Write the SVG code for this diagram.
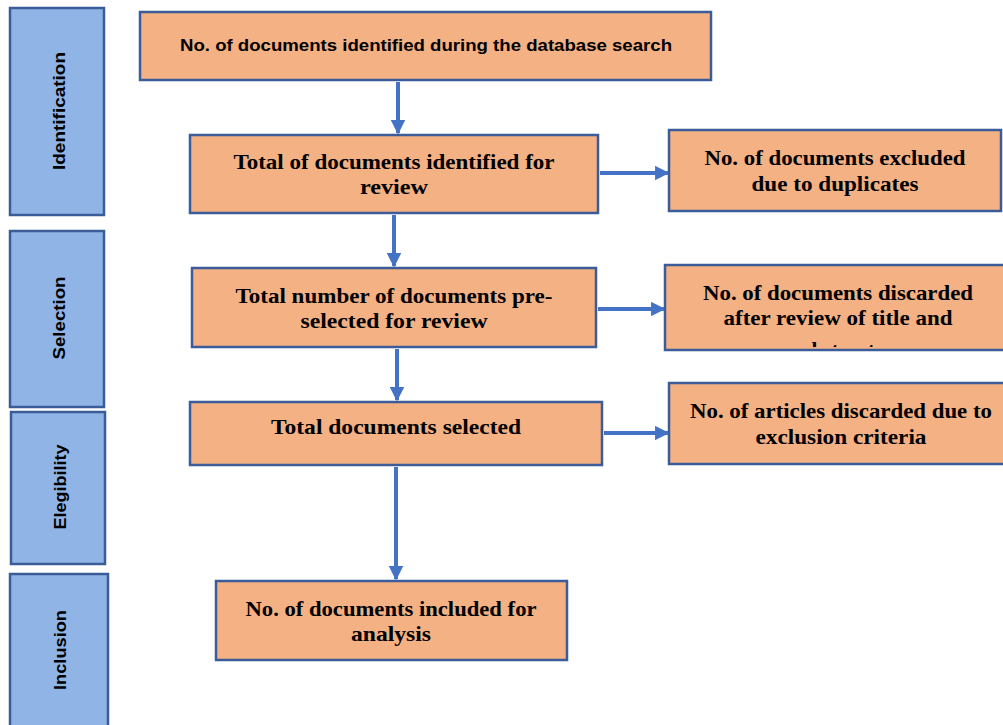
<svg xmlns="http://www.w3.org/2000/svg" width="1003" height="725" viewBox="0 0 1003 725">
<style>
.side{fill:#8FB4E5;stroke:#3B5C98;stroke-width:2.5}
.box{fill:#F4B183;stroke:#3B5C98;stroke-width:2.5}
.st{font-family:"Liberation Sans",Arial,sans-serif;font-weight:bold;font-size:17px;fill:#000;text-anchor:middle}
.bt{font-family:"Liberation Serif","Times New Roman",serif;font-weight:bold;font-size:21px;fill:#000;text-anchor:middle}
.tt{font-family:"Liberation Sans",Arial,sans-serif;font-weight:bold;font-size:17px;fill:#000;text-anchor:middle}
.conn{stroke:#4472C4;stroke-width:4;fill:none}
</style>
<defs>
<marker id="ah" viewBox="0 0 10 10" refX="9" refY="5" markerWidth="3.6" markerHeight="3.6" orient="auto" markerUnits="strokeWidth">
<path d="M0,0 L10,5 L0,10 z" fill="#4472C4"/>
</marker>
<clipPath id="clipR2"><rect x="666" y="266" width="337" height="81"/></clipPath>
</defs>
<rect width="1003" height="725" fill="#fff"/>

<g id="phase-identification">
<rect class="side" x="10" y="8" width="94" height="207"/>
<text class="st" transform="translate(65,111) rotate(-90)" textLength="118" lengthAdjust="spacingAndGlyphs">Identification</text>
</g>
<g id="phase-selection">
<rect class="side" x="10" y="231" width="94" height="176"/>
<text class="st" transform="translate(65,318) rotate(-90)" textLength="83" lengthAdjust="spacingAndGlyphs">Selection</text>
</g>
<g id="phase-elegibility">
<rect class="side" x="11" y="412" width="94" height="152"/>
<text class="st" transform="translate(66,487) rotate(-90)" textLength="85" lengthAdjust="spacingAndGlyphs">Elegibility</text>
</g>
<g id="phase-inclusion">
<rect class="side" x="10" y="574" width="98" height="160"/>
<text class="st" transform="translate(66,650) rotate(-90)" textLength="80" lengthAdjust="spacingAndGlyphs">Inclusion</text>
</g>

<g id="n-search">
<rect class="box" x="140" y="12" width="571" height="68"/>
<text class="tt" x="426" y="51" textLength="492" lengthAdjust="spacingAndGlyphs">No. of documents identified during the database search</text>
</g>
<g id="n-identified">
<rect class="box" x="190" y="135" width="408" height="78"/>
<text class="bt" x="394" y="169" textLength="321" lengthAdjust="spacingAndGlyphs">Total of documents identified for</text>
<text class="bt" x="394" y="194" textLength="68" lengthAdjust="spacingAndGlyphs">review</text>
</g>
<g id="n-duplicates">
<rect class="box" x="669" y="130" width="332" height="81"/>
<text class="bt" x="835" y="165" textLength="261" lengthAdjust="spacingAndGlyphs">No. of documents excluded</text>
<text class="bt" x="835" y="191" textLength="167" lengthAdjust="spacingAndGlyphs">due to duplicates</text>
</g>
<g id="n-preselected">
<rect class="box" x="192" y="268" width="404" height="79"/>
<text class="bt" x="394" y="303" textLength="317" lengthAdjust="spacingAndGlyphs">Total number of documents pre-</text>
<text class="bt" x="394" y="328" textLength="187" lengthAdjust="spacingAndGlyphs">selected for review</text>
</g>
<g id="n-discarded-title">
<rect class="box" x="665" y="265" width="345" height="85"/>
<text class="bt" x="838" y="300" textLength="270" lengthAdjust="spacingAndGlyphs">No. of documents discarded</text>
<text class="bt" x="838" y="325" textLength="229" lengthAdjust="spacingAndGlyphs">after review of title and</text>
<text class="bt" x="838" y="357" clip-path="url(#clipR2)">abstract</text>
</g>
<g id="n-selected">
<rect class="box" x="190" y="402" width="412" height="63"/>
<text class="bt" x="396" y="434" textLength="250" lengthAdjust="spacingAndGlyphs">Total documents selected</text>
</g>
<g id="n-exclusion">
<rect class="box" x="669" y="383" width="340" height="81"/>
<text class="bt" x="841" y="418" textLength="302" lengthAdjust="spacingAndGlyphs">No. of articles discarded due to</text>
<text class="bt" x="841" y="444" textLength="171" lengthAdjust="spacingAndGlyphs">exclusion criteria</text>
</g>
<g id="n-included">
<rect class="box" x="216" y="581" width="351" height="79"/>
<text class="bt" x="391" y="616" textLength="291" lengthAdjust="spacingAndGlyphs">No. of documents included for</text>
<text class="bt" x="391" y="641" textLength="80" lengthAdjust="spacingAndGlyphs">analysis</text>
</g>

<g id="connectors">
<line class="conn" x1="398" y1="82" x2="398" y2="133" marker-end="url(#ah)"/>
<line class="conn" x1="600" y1="173" x2="668" y2="173" marker-end="url(#ah)"/>
<line class="conn" x1="394" y1="215" x2="394" y2="266" marker-end="url(#ah)"/>
<line class="conn" x1="598" y1="309" x2="664" y2="309" marker-end="url(#ah)"/>
<line class="conn" x1="397" y1="349" x2="397" y2="400" marker-end="url(#ah)"/>
<line class="conn" x1="604" y1="433" x2="668" y2="433" marker-end="url(#ah)"/>
<line class="conn" x1="396" y1="467" x2="396" y2="579" marker-end="url(#ah)"/>
</g>
</svg>
